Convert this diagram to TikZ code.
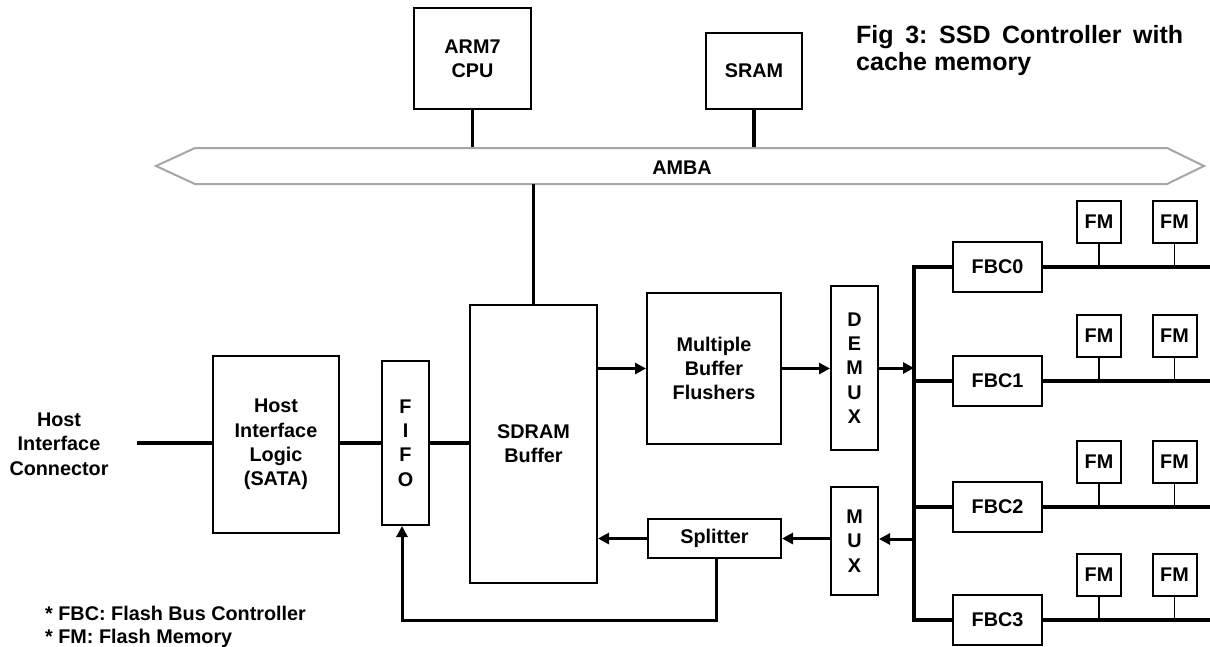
\documentclass[tikz,border=0pt]{standalone}
\usepackage{fontspec}
\setmainfont{Liberation Sans}
\usetikzlibrary{arrows.meta}
\newcommand\lblfont{\fontsize{19.8}{24.3}\selectfont\bfseries}
\newcommand\ttlfont{\fontsize{25}{27}\selectfont\bfseries}
\frenchspacing
\begin{document}
\begin{tikzpicture}[x=1pt,y=-1pt,
  box/.style={draw, line width=2pt, inner sep=0pt, font=\lblfont, align=center},
  fmbox/.style={box, minimum width=44pt, minimum height=42pt},
  fbcbox/.style={box, minimum width=89pt, minimum height=50pt},
  bus/.style={line width=3.3pt},
  arr/.style={line width=3pt, -{Triangle[length=11pt,width=11pt]}},
  stem/.style={line width=1.6pt},
  plain/.style={font=\lblfont, align=center, inner sep=0pt}]
\useasboundingbox (0,0) rectangle (1210,646);

% title
\node[font=\ttlfont, align=left, inner sep=0pt, anchor=north west] (title) at (856,25)
  {\makebox[327pt][s]{Fig 3: SSD Controller with}\\cache memory};

% CPU and SRAM
\node[box, minimum width=117pt, minimum height=101pt] (arm) at (472.5,58.5) {ARM7\\CPU};
\node[box, minimum width=96pt, minimum height=76pt] (sram) at (754,71) {SRAM};

% AMBA bus
\coordinate (ambaT) at (0,148);
\coordinate (ambaB) at (0,184);
\draw[bus] (arm.south) -- (arm.south |- ambaT);
\draw[bus] (sram.south) -- (sram.south |- ambaT);
\draw[line width=2pt, draw=gray!70, fill=white, line join=miter]
  (156,166) -- (195,148) -- (1167,148) -- (1204,166) -- (1167,184) -- (195,184) -- cycle;
\node[plain] (amba) at (682,168) {AMBA};

% host side
\node[box, minimum width=127pt, minimum height=278pt] (sdram) at (533.5,444) {SDRAM\\Buffer};
\draw[bus] (sdram.north) -- (sdram.north |- ambaB);
\node[box, minimum width=126pt, minimum height=177pt] (hil) at (276,444.5) {Host\\Interface\\Logic\\(SATA)};
\node[box, minimum width=47pt, minimum height=164pt] (fifo) at (405.5,443) {F\\I\\F\\O};
\node[plain] (hic) at (59,444) {Host\\Interface\\Connector};
\coordinate (hostend) at (137,443);
\draw[bus] (hostend) -- (hostend -| hil.west);
\draw[bus] (hostend -| hil.east) -- (hostend -| fifo.west);
\draw[bus] (hostend -| fifo.east) -- (hostend -| sdram.west);

% flush path
\node[box, minimum width=134pt, minimum height=151pt] (mbf) at (714,368.5) {Multiple\\Buffer\\Flushers};
\node[box, minimum width=47pt, minimum height=164pt] (demux) at (854.5,368) {D\\E\\M\\U\\X};
\coordinate (busx) at (914,0);
\draw[arr] (sdram.east |- mbf.west) -- (mbf.west);
\draw[arr] (mbf.east) -- (mbf.east -| demux.west);
\draw[arr] (demux.east) -- (demux.east -| busx);

% flash bus controllers
\foreach \i/\yy in {0/267,1/381,2/507,3/620}{
  \node[fbcbox] (fbc\i) at (997.5,\yy) {FBC\i};
  \coordinate (end\i) at (1210,\yy);
  \draw[bus] (fbc\i.east) -- (end\i);
  \node[fmbox] (fma\i) at (1099,\yy-45) {FM};
  \node[fmbox] (fmb\i) at (1174.5,\yy-45) {FM};
  \draw[stem] (fma\i.south) -- (fma\i.south |- end\i);
  \draw[stem] (fmb\i.south) -- (fmb\i.south |- end\i);
}
\draw[bus, line join=miter] (fbc0.west) -- (busx |- fbc0.west) -- (busx |- fbc3.west) -- (fbc3.west);
\draw[bus] (busx |- fbc1.west) -- (fbc1.west);
\draw[bus] (busx |- fbc2.west) -- (fbc2.west);

% read path
\node[box, minimum width=47pt, minimum height=108pt] (mux) at (854.5,541) {M\\U\\X};
\node[box, minimum width=133pt, minimum height=39pt] (split) at (714.5,538.5) {Splitter};
\coordinate (muxin) at (914,539);
\draw[arr] (muxin) -- (muxin -| mux.east);
\draw[arr] (split.east -| mux.west) -- (split.east);
\draw[arr] (split.west) -- (split.west -| sdram.east);
\coordinate (fbr) at (716,620);
\coordinate (fbl) at (402,620);
\draw[arr, line join=miter] (split.south -| fbr) -- (fbr) -- (fbl) -- (fbl |- fifo.south);

% notes
\node[font=\lblfont, anchor=base west, inner sep=0pt] (note1) at (45,620) {* FBC: Flash Bus Controller};
\node[font=\lblfont, anchor=base west, inner sep=0pt] (note2) at (45,643) {* FM: Flash Memory};
\end{tikzpicture}
\end{document}
